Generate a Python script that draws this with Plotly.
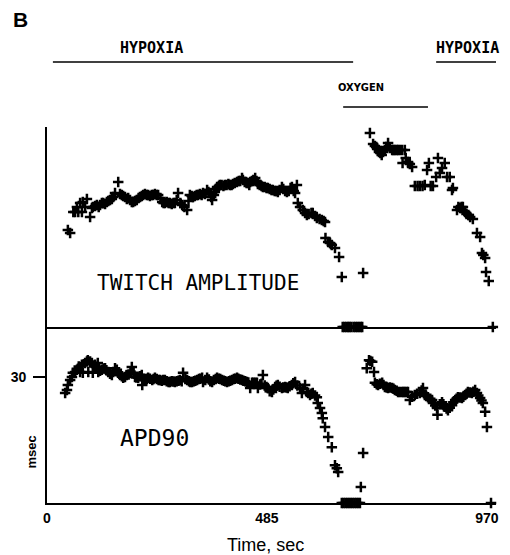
import plotly.graph_objects as go

# twitch amplitude (arbitrary units, 0-100) vs time (s)
TWITCH_T = [46, 51, 58, 62, 66, 69, 73, 77, 79, 84, 88, 95, 99, 101, 106, 110, 114, 117, 121, 124,
            128, 132, 135, 139, 143, 146, 150, 157, 161, 165, 168, 172, 176, 179, 183, 187, 190, 194,
            198, 202, 205, 209, 212, 216, 220, 223, 227, 231, 234, 238, 242, 245, 250, 254, 257, 260,
            264, 268, 271, 275, 279, 282, 286, 289, 294, 298, 303, 309, 312, 315, 319, 322, 326, 330,
            333, 337, 341, 344, 348, 353, 356, 359, 362, 364, 368, 370, 373, 375, 379, 381, 385, 389,
            392, 396, 400, 403, 407, 410, 414, 419, 423, 426, 430, 432, 436, 440, 443, 446, 448, 452,
            455, 459, 462, 465, 469, 473, 476, 480, 484, 487, 491, 495, 498, 502, 505, 509, 513, 518,
            521, 525, 529, 533, 537, 540, 544, 547, 551, 553, 558, 564, 569, 573, 577, 583, 586, 591,
            595, 601, 606, 610, 613, 614, 620, 624, 628, 635, 644, 650,
            652, 656, 660, 664, 667, 671, 676, 680, 684, 688, 692, 695, 697,
            712, 719, 723, 726, 728, 732, 735, 738, 741, 745, 748, 752, 756, 761, 764, 767, 771, 774,
            778, 783, 784, 789, 791, 796, 800, 805, 811, 817, 822, 828, 833, 838, 842, 846, 851, 858,
            862, 866, 871, 877, 882, 888, 893, 895, 904, 907, 911, 914, 917, 922, 925, 929, 933, 939,
            948, 955, 959, 962, 966, 968, 974, 983]
TWITCH_V = [48.5, 47, 57.5, 57.5, 60, 57.5, 62, 57.5, 62.5, 60, 64, 55, 59.5, 60, 60.5, 61, 60, 61, 62, 62,
            61.5, 62.5, 63, 63.5, 64, 65, 67, 72.5, 66.5, 66, 65.5, 65, 64, 64.5, 63.5, 62.5, 62.5, 63,
            63.5, 64.5, 65, 65.5, 66, 66.5, 66, 66, 65.5, 66, 66, 66.5, 66, 66, 64.5, 62.5, 62, 62,
            62.5, 62, 62, 61.5, 62, 62, 63.5, 67, 62, 61, 60, 58.5, 63, 66, 65.5, 65, 65.5, 66,
            66, 66.5, 66, 67, 66.5, 68.5, 67.5, 67, 65, 63.5, 66, 67.5, 69, 70, 70.5, 71, 71, 70.5,
            71, 71, 71.5, 71, 71, 71.5, 72, 72.5, 73, 73, 74.5, 73.5, 72.5, 72, 72, 71, 72.5, 73,
            73.5, 74.5, 73, 71.5, 71, 70.5, 70, 70, 69.5, 69.5, 69, 68.5, 68.5, 68, 68, 67.5, 68.5, 70,
            69, 68, 67.5, 68, 69.5, 70, 68, 67, 71, 62, 60, 58.5, 57, 56, 56.5, 57, 57, 55.5,
            54.5, 54, 53.5, 53, 52.5, 44.5, 42.5, 42, 41, 39.5, 35, 25,
            0, 0, 0, 0, 0, 0, 0, 0, 0, 0, 0, 0, 27,
            97, 91.5, 90.5, 90, 89, 87.5, 87, 86, 87.5, 88.5, 90, 92, 89.5, 88.5, 88.5, 88.5, 88.5, 88.5,
            88.5, 88.5, 82, 88.5, 84.5, 82.5, 81.5, 80, 70.5, 70.5, 70.5, 70.5, 71, 78.5, 82, 70.5, 70.5, 75,
            84.5, 77, 79.5, 82, 75, 75, 68.5, 69.5, 58.5, 60, 59.5, 60, 60, 57.5, 56.5, 56, 55, 54,
            47, 45, 37, 36, 34.5, 27.5, 23, 0]

# APD90 (msec) vs time (s)
APD_T = [40, 44, 46, 51, 55, 57, 62, 66, 70, 73, 77, 79, 84, 88, 90, 91, 95, 99, 101, 104,
         106, 110, 112, 113, 117, 121, 125, 128, 131, 135, 139, 143, 146, 150, 154, 157, 161, 165, 168, 172,
         176, 180, 184, 187, 191, 194, 197, 201, 205, 209, 210, 213, 216, 220, 223, 227, 232, 235, 238, 242,
         246, 249, 253, 256, 260, 264, 268, 271, 275, 279, 282, 286, 290, 293, 297, 300, 305, 309, 313, 316,
         320, 324, 327, 331, 335, 338, 342, 344, 349, 353, 357, 360, 364, 368, 372, 375, 379, 382, 386, 390,
         393, 397, 401, 404, 408, 412, 415, 419, 422, 426, 430, 433, 437, 441, 444, 448, 452, 455, 459, 463,
         465, 470, 473, 476, 480, 484, 487, 491, 496, 499, 503, 506, 509, 513, 518, 521, 525, 528, 531, 535,
         540, 543, 547, 552, 558, 562, 565, 569, 573, 576, 580, 583, 586, 591, 595, 597, 602, 606, 608, 613,
         620, 628, 635, 639, 642,
         650, 654, 658, 662, 666, 670, 674, 678, 682, 686, 690, 692, 697,
         705, 710, 713, 717, 721, 723, 727, 730, 734, 739, 742, 745, 749, 752, 756, 761, 764, 767, 771, 774,
         778, 783, 786, 789, 793, 796, 800, 805, 811, 816, 822, 826, 829, 833, 836, 840, 845, 849, 851, 856,
         860, 861, 866, 871, 874, 877, 881, 884, 888, 893, 896, 900, 903, 906, 911, 915, 918, 922, 925, 928,
         933, 937, 940, 944, 948, 951, 955, 958, 961, 966, 970, 979]
APD_V = [26.2, 26.9, 28.1, 29.3, 30, 31, 31.2, 31.7, 32.5, 31.2, 32.9, 31, 33.3, 33.7, 34, 31.2, 33.7, 33.3, 31, 32.5,
         32.9, 32.4, 33.3, 31.2, 31.5, 31.7, 32, 32.1, 31.6, 31.2, 30.8, 30.5, 31.2, 32.1, 31.7, 31, 30.5, 30.2, 29.8, 30,
         30.5, 30.6, 31.3, 32.4, 31, 30, 29.9, 29.8, 30.2, 30.5, 28.1, 29.6, 29.3, 29.5, 29.8, 29.6, 29.3, 29.5, 29.8, 29.5,
         29.3, 29.3, 29.1, 29.3, 29.3, 29, 28.8, 28.8, 29, 28.9, 28.8, 29, 29.1, 29.3, 29, 31, 29.5, 29.3, 29, 28.8,
         28.8, 29, 29.1, 29.3, 29.5, 29.6, 29.8, 28.8, 29.3, 29.8, 29.4, 29, 28.8, 29.3, 29.5, 29.8, 29.6, 29.5, 29.3, 29.1,
         29, 28.8, 29, 29.1, 29.3, 29.5, 29.6, 29.8, 29.6, 29.4, 29.3, 29.1, 29, 28.8, 28.7, 27.4, 28.6, 28.6, 28.6, 28.6,
         27.4, 28.2, 28.4, 30.5, 28, 27.6, 27.4, 26.6, 26.4, 27, 27.6, 27.9, 28.1, 27.7, 27.4, 27.5, 27.6, 27.5, 27.4, 27.8,
         28.1, 28.5, 28.8, 28, 27.4, 26.2, 27.2, 28.1, 26.4, 26.2, 25.7, 26, 26.2, 25.6, 25.2, 23.8, 22.6, 21.4, 20.2, 18.1,
         15.7, 13.3, 9, 8.3, 7.4,
         0, 0, 0, 0, 0, 0, 0, 0, 0, 0, 0, 3.8, 11.9,
         32.1, 34, 33.8, 33.6, 31.2, 28.6, 28.3, 28.1, 28.4, 28.6, 28.1, 27.6, 27.5, 27.4, 27.5, 27.4, 27.2, 26.9, 26.7, 26.4,
         26.4, 26.4, 26.4, 26.4, 26.4, 26.4, 24.5, 25.3, 25.7, 26, 26.2, 26.8, 27.4, 25.7, 25.5, 25.2, 24.8, 24.5, 23.8, 23.2,
         22.6, 21, 23.5, 24, 23.5, 22.9, 22.5, 22.1, 22.7, 23.3, 24, 24.5, 24.8, 25.2, 25.1, 25, 25.3, 25.7, 26, 26.4,
         26.3, 26.2, 26.5, 26.9, 26.2, 25.6, 25, 24.4, 23.8, 21.7, 18.1, 0]

# protocol bars above the plot: label, start, end (s), label centre (s)
PERIOD_LABELS = ["HYPOXIA", "OXYGEN", "HYPOXIA"]
PERIOD_START = [13, 653, 858]
PERIOD_END = [675, 840, 990]
PERIOD_LABEL_X = [231, 692, 928]

X_TICKS = [0, 485, 970]
Y_TICK = 30
APD_MAX = 41.9

BLACK = "black"
MONO = "DejaVu Sans Mono"
SANS = "Liberation Sans, Arial"

marker = dict(symbol="cross-thin", size=7.5, color=BLACK, line=dict(color=BLACK, width=2.5))

fig = go.Figure()
fig.add_trace(go.Scatter(x=TWITCH_T, y=TWITCH_V, mode="markers", marker=marker,
                         xaxis="x2", yaxis="y2", cliponaxis=False, showlegend=False))
fig.add_trace(go.Scatter(x=APD_T, y=APD_V, mode="markers", marker=marker,
                         xaxis="x", yaxis="y", cliponaxis=False, showlegend=False))

split = 176 / 376

# page body has an 8px margin, so the figure is 8px smaller than the window
fig.update_layout(
    width=502, height=547,
    margin=dict(l=39, r=14, t=119, b=52, autoexpand=False),
    paper_bgcolor="white", plot_bgcolor="white",
    xaxis=dict(range=[0, 990], domain=[0, 1], anchor="y", automargin=False,
               tickvals=X_TICKS, ticktext=[str(v) for v in X_TICKS], ticks="",
               showline=True, linecolor=BLACK, linewidth=1.6, showgrid=False, zeroline=False,
               ticklabelstandoff=1,
               tickfont=dict(family=SANS, size=14, color=BLACK, weight="bold")),
    xaxis2=dict(range=[0, 990], domain=[0, 1], anchor="y2", matches="x", automargin=False,
                showticklabels=False, ticks="",
                showline=True, linecolor=BLACK, linewidth=1.6, showgrid=False, zeroline=False),
    yaxis=dict(range=[0, APD_MAX], domain=[0, split], anchor="x", automargin=False,
               tickvals=[Y_TICK], ticktext=[str(Y_TICK)], ticks="outside", ticklen=12, tickwidth=1.8,
               tickcolor=BLACK, ticklabelstandoff=4,
               showline=True, linecolor=BLACK, linewidth=1.6, showgrid=False, zeroline=False,
               tickfont=dict(family=SANS, size=14, color=BLACK, weight="bold")),
    yaxis2=dict(range=[0, 100], domain=[split, 1], anchor="x2", automargin=False,
                showticklabels=False, ticks="",
                showline=True, linecolor=BLACK, linewidth=1.6, showgrid=False, zeroline=False),
)

annotations = [
    dict(text="B", x=-0.06, y=1.287, xref="paper", yref="paper", showarrow=False,
         xanchor="center", yanchor="middle",
         font=dict(family=SANS, size=21, color=BLACK, weight="bold")),
    dict(text="TWITCH AMPLITUDE", x=332, y=22, xref="x2", yref="y2", showarrow=False,
         xanchor="center", yanchor="middle",
         font=dict(family=MONO, size=21, color=BLACK)),
    dict(text="APD90", x=236, y=15.5, xref="x", yref="y", showarrow=False,
         xanchor="center", yanchor="middle",
         font=dict(family=MONO, size=23, color=BLACK)),
    dict(text="msec", x=-0.034, y=0.136, xref="paper", yref="paper", showarrow=False, textangle=-90,
         xanchor="center", yanchor="middle",
         font=dict(family=SANS, size=13, color=BLACK, weight="bold")),
    dict(text="Time, sec", x=0.487, y=-0.112, xref="paper", yref="paper", showarrow=False,
         xanchor="center", yanchor="middle",
         font=dict(family=SANS, size=18, color=BLACK)),
]

# short tick to the left of the y axis at the labelled value (paper coords are never clipped)
tick_y = Y_TICK / APD_MAX * split
shapes = [dict(type="line", xref="paper", yref="paper", x0=-0.03, x1=0, y0=tick_y, y1=tick_y,
               layer="above", line=dict(color=BLACK, width=2))]
bar_y = [1.173, 1.053, 1.173]
label_y = [1.21, 1.104, 1.21]
for lab, x0, x1, lx, by, ly in zip(PERIOD_LABELS, PERIOD_START, PERIOD_END, PERIOD_LABEL_X, bar_y, label_y):
    shapes.append(dict(type="line", xref="x", yref="paper", x0=x0, x1=x1, y0=by, y1=by,
                       line=dict(color=BLACK, width=1.6)))
    condensed = lab == "OXYGEN"
    annotations.append(dict(text=lab, x=lx, y=ly, xref="x", yref="paper", showarrow=False,
                            xanchor="center", yanchor="middle",
                            font=dict(family="Liberation Sans Narrow, DejaVu Sans Condensed, Liberation Sans" if condensed else MONO,
                                      size=11 if condensed else 15, color=BLACK, weight="bold")))

fig.update_layout(annotations=annotations, shapes=shapes)

fig.write_html("out.html")
